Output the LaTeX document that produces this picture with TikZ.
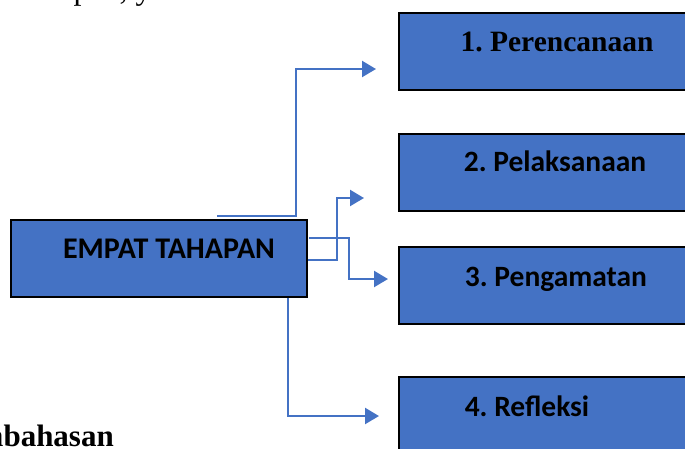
\documentclass[tikz,border=0pt]{standalone}
\usepackage{fontspec}
\setmainfont{Liberation Serif}
\newfontfamily\carlito{Carlito}
\usetikzlibrary{arrows.meta}
\definecolor{bl}{HTML}{4472C4}
\frenchspacing
\begin{document}
\begin{tikzpicture}[x=1pt,y=-1pt,
  box/.style={draw=black, line width=1.8pt, fill=bl, inner sep=0pt, anchor=north west, minimum height=77pt},
  lbl/.style={anchor=base, inner sep=0pt, font=\carlito\bfseries\fontsize{29.5}{33}\selectfont},
  conn/.style={draw=bl, line width=2.3pt, -{Triangle[length=14pt,width=16pt]}}]
\useasboundingbox (0,0) rectangle (685,448);
\clip (0,0) rectangle (685,448);
% background text fragments
\node[anchor=base west, inner sep=0pt, font=\fontsize{32}{36}\selectfont] (toptext) at (20,-0.5) {tahapan, yaitu};
\node[anchor=base east, inner sep=0pt, font=\bfseries\fontsize{31}{35}\selectfont] (bottomtext) at (114,446) {Pembahasan};
% boxes
\node[box, minimum width=296pt] (main) at (10,219) {};
\node[box, minimum width=310pt] (b1) at (398,12) {};
\node[box, minimum width=310pt] (b2) at (398,133) {};
\node[box, minimum width=310pt] (b3) at (398,246) {};
\node[box, minimum width=310pt, minimum height=90pt] (b4) at (398,376) {};
% labels
\node[lbl, font=\carlito\bfseries\fontsize{30}{34}\selectfont] (mainlbl) at (169,258) {EMPAT TAHAPAN};
\node[anchor=base, inner sep=0pt, font=\bfseries\fontsize{29.5}{33}\selectfont] (l1) at (557,51.5) {1. Perencanaan};
\node[lbl] (l2) at (555,171.5) {2. Pelaksanaan};
\node[lbl] (l3) at (556,286) {3. Pengamatan};
\node[lbl] (l4) at (527,416.5) {4. Refleksi};
% connector endpoints
\coordinate (s1) at (217,216);
\coordinate (e1) at (376,69);
\coordinate (s2) at (main.east |- 0,260);
\coordinate (e2) at (364,198);
\coordinate (s3) at (309,238);
\coordinate (e3) at (388,279);
\coordinate (s4) at (288,0 |- main.south);
\coordinate (e4) at (379,416);
% connectors
\draw[conn] (s1) -- (296,216) |- (e1);
\draw[conn] (s2) -- (337,260) |- (e2);
\draw[conn] (s3) -- (349,238) |- (e3);
\draw[conn] (s4) |- (e4);
\end{tikzpicture}
\end{document}
